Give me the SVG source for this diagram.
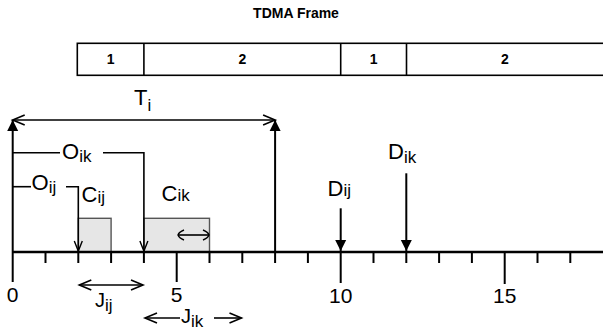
<svg xmlns="http://www.w3.org/2000/svg" width="603" height="333" viewBox="0 0 603 333">
<style>
.ln{stroke:#000;stroke-width:1.6;fill:none}
.th{stroke:#000;stroke-width:2;fill:none}
.ax{stroke:#000;stroke-width:2.4;fill:none}
.tk{stroke:#000;stroke-width:2;fill:none}
.box{fill:#fff;stroke:#000;stroke-width:1.6}
.job{fill:#e6e6e6;stroke:#555;stroke-width:1.4}
.bt{font-family:"Liberation Sans",Arial,sans-serif;font-weight:bold;font-size:14px;text-anchor:middle}
.lb{font-family:"Liberation Sans",Arial,sans-serif;font-size:22px}
.sb{font-size:17px}
.num{font-family:"Liberation Sans",Arial,sans-serif;font-size:21px;text-anchor:middle}
</style>
<defs>
<marker id="fill" markerUnits="userSpaceOnUse" markerWidth="14" markerHeight="14" viewBox="-12 -7 14 14" refX="0" refY="0" orient="auto">
<path d="M-11,-5.5 L0,0 L-11,5.5 Z" fill="#000"/>
</marker>
<marker id="open" markerUnits="userSpaceOnUse" markerWidth="16" markerHeight="14" viewBox="-14 -7 16 14" refX="0" refY="0" orient="auto-start-reverse" overflow="visible">
<path d="M-12,-5 L0,0 L-12,5" fill="none" stroke="#000" stroke-width="1.6"/>
</marker>
<marker id="vsm" markerUnits="userSpaceOnUse" markerWidth="12" markerHeight="12" viewBox="-11 -6 12 12" refX="0" refY="0" orient="auto" overflow="visible">
<path d="M-10,-4 L0,0 L-10,4" fill="none" stroke="#000" stroke-width="1.4"/>
</marker>
<marker id="curv" markerUnits="userSpaceOnUse" markerWidth="12" markerHeight="12" viewBox="-9 -6 10 12" refX="0" refY="0" orient="auto-start-reverse" overflow="visible">
<path d="M-6,-5 Q-1,-3 0,0 Q-1,3 -6,5" fill="none" stroke="#000" stroke-width="1.4"/>
</marker>
</defs>
<rect width="603" height="333" fill="#fff"/>

<g id="tdma-frame">
<text class="bt" x="296" y="18">TDMA Frame</text>
<rect class="box" x="77.3" y="43.3" width="530" height="32"/>
<line class="ln" x1="143.9" y1="43.3" x2="143.9" y2="75.3"/>
<line class="ln" x1="340.7" y1="43.3" x2="340.7" y2="75.3"/>
<line class="ln" x1="406.5" y1="43.3" x2="406.5" y2="75.3"/>
<text class="bt" x="110.6" y="64">1</text>
<text class="bt" x="242.3" y="64">2</text>
<text class="bt" x="373.6" y="64">1</text>
<text class="bt" x="505" y="64">2</text>
</g>

<g id="jobs">
<rect id="job-ij" class="job" x="78.3" y="218.3" width="32.8" height="33.7"/>
<rect id="job-ik" class="job" x="143.9" y="218.3" width="65.6" height="33.7"/>
</g>

<g id="axis">
<line class="ax" x1="12.7" y1="252" x2="603" y2="252"/>
<g class="tk">
<line x1="45.5" y1="252" x2="45.5" y2="263"/>
<line x1="78.3" y1="252" x2="78.3" y2="263"/>
<line x1="111.1" y1="252" x2="111.1" y2="263"/>
<line x1="143.9" y1="252" x2="143.9" y2="263"/>
<line x1="176.7" y1="252" x2="176.7" y2="282"/>
<line x1="209.5" y1="252" x2="209.5" y2="263"/>
<line x1="242.3" y1="252" x2="242.3" y2="263"/>
<line x1="275.1" y1="252" x2="275.1" y2="263"/>
<line x1="307.9" y1="252" x2="307.9" y2="263"/>
<line x1="340.7" y1="252" x2="340.7" y2="283"/>
<line x1="373.5" y1="252" x2="373.5" y2="263"/>
<line x1="406.3" y1="252" x2="406.3" y2="263"/>
<line x1="439.1" y1="252" x2="439.1" y2="263"/>
<line x1="471.9" y1="252" x2="471.9" y2="263"/>
<line x1="504.7" y1="252" x2="504.7" y2="284"/>
<line x1="537.5" y1="252" x2="537.5" y2="263"/>
<line x1="570.3" y1="252" x2="570.3" y2="263"/>
</g>
<text class="num" x="12.7" y="302">0</text>
<text class="num" x="176.7" y="302">5</text>
<text class="num" x="340.7" y="303">10</text>
<text class="num" x="504.7" y="303">15</text>
</g>

<g id="connectors">
<line class="th" x1="12.7" y1="282" x2="12.7" y2="120" marker-end="url(#fill)"/>
<line class="th" x1="275.1" y1="252" x2="275.1" y2="120" marker-end="url(#fill)"/>
<line class="ln" x1="12.7" y1="120" x2="275.1" y2="120" marker-start="url(#open)" marker-end="url(#open)"/>
<polyline class="ln" points="12.7,152.7 60,152.7"/>
<polyline class="ln" points="103,152.7 143.9,152.7 143.9,251" marker-end="url(#vsm)"/>
<polyline class="ln" points="12.7,186.7 31,186.7"/>
<polyline class="ln" points="66,186.7 78.3,186.7 78.3,251" marker-end="url(#vsm)"/>
<line class="th" x1="340.7" y1="208.3" x2="340.7" y2="251" marker-end="url(#fill)"/>
<line class="th" x1="406.3" y1="173.3" x2="406.3" y2="251" marker-end="url(#fill)"/>
<line class="ln" x1="178" y1="235" x2="209" y2="235" marker-start="url(#curv)" marker-end="url(#curv)"/>
<line class="ln" x1="79.3" y1="285" x2="143" y2="285" marker-start="url(#open)" marker-end="url(#open)"/>
<line class="ln" x1="145" y1="318" x2="180" y2="318" marker-start="url(#open)"/>
<line class="ln" x1="214" y1="318" x2="241.5" y2="318" marker-end="url(#open)"/>
</g>

<g id="labels">
<text id="label-Ti" class="lb" x="134" y="105">T<tspan class="sb" dy="6">i</tspan></text>
<text id="label-Oik" class="lb" x="62" y="158.5">O<tspan class="sb" dy="3.5">ik</tspan></text>
<text id="label-Oij" class="lb" x="31.5" y="189.5">O<tspan class="sb" dy="3.5">ij</tspan></text>
<text id="label-Cij" class="lb" x="81.5" y="201.5">C<tspan class="sb" dy="1">ij</tspan></text>
<text id="label-Cik" class="lb" x="161.5" y="201">C<tspan class="sb" dy="0">ik</tspan></text>
<text id="label-Dij" class="lb" x="327.5" y="195.5">D<tspan class="sb" dy="0.5">ij</tspan></text>
<text id="label-Dik" class="lb" x="388" y="158.5">D<tspan class="sb" dy="4">ik</tspan></text>
<text id="label-Jij" class="lb" x="95" y="307" style="font-size:20px">J<tspan style="font-size:17px" dy="4">ij</tspan></text>
<text id="label-Jik" class="lb" x="181" y="323" style="font-size:20px">J<tspan style="font-size:17px" dy="4">ik</tspan></text>
</g>
</svg>
